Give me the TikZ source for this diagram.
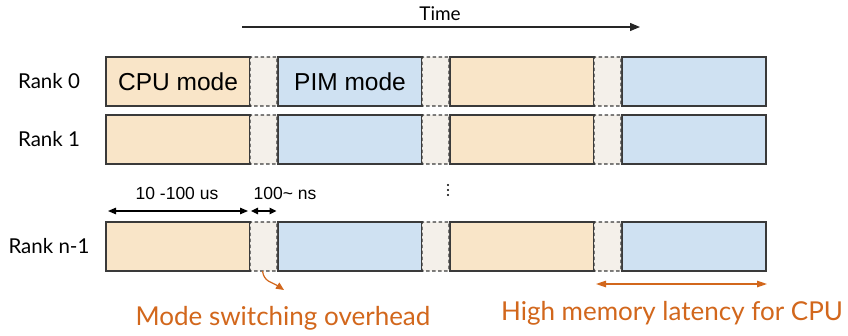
\documentclass[tikz,border=0pt]{standalone}
\usepackage{fontspec}
\setmainfont{Lato}
\newfontfamily\arialfont{Liberation Sans}
\usetikzlibrary{arrows.meta}

\definecolor{cpufill}{HTML}{F9E5C8}
\definecolor{pimfill}{HTML}{CFE1F2}
\definecolor{swfill}{HTML}{F4F0EA}
\definecolor{edge}{HTML}{3A3A3A}
\definecolor{accent}{HTML}{D2671C}

\tikzset{
  blk/.style={anchor=north west, inner sep=0pt, outer sep=0pt,
    minimum height=49pt, line width=1.2pt, draw=edge},
  cpubox/.style={blk, fill=cpufill, minimum width=144pt},
  pimbox/.style={blk, fill=pimfill, minimum width=144pt},
  swbox/.style={blk, fill=swfill, minimum width=27pt,
    dash pattern=on 3.5pt off 2.5pt, rounded corners=1pt},
  ranklabel/.style={font=\fontsize{20.5}{24}\selectfont, text=black},
  modetext/.style={font=\arialfont\fontsize{24.5}{28}\selectfont},
  dimtext/.style={font=\arialfont\fontsize{17.5}{20}\selectfont},
  notetext/.style={font=\fontsize{26}{30}\selectfont, text=accent},
  dimarrow/.style={line width=1.2pt, {Triangle[length=8pt,width=6.5pt]}-{Triangle[length=8pt,width=6.5pt]}},
}

\begin{document}
\begin{tikzpicture}[x=1pt, y=-1pt]
\useasboundingbox[fill=white] (0,0) rectangle (848,335);

% time axis
\coordinate (t0) at (242,27);
\coordinate (t1) at (640,27);
\draw[line width=1.2pt, draw=black!85, -{Triangle[length=10pt,width=8pt]}] (t0) -- (t1);
\node[font=\fontsize{19}{22}\selectfont] (timelbl) at (440,14) {Time};

% three rows of alternating CPU / switch / PIM phases
\foreach \r/\y/\lbl in {0/57/Rank 0, 1/115/Rank 1, n/222/Rank n-1} {
  \node[ranklabel] (lbl\r) at (49,\y+24.5) {\lbl};
  \node[cpubox] (cpuA\r) at (106,\y) {};
  \node[pimbox] (pimA\r) at (278,\y) {};
  \node[cpubox] (cpuB\r) at (450,\y) {};
  \node[pimbox] (pimB\r) at (622,\y) {};
  \node[swbox]  (swA\r)  at (250,\y) {};
  \node[swbox]  (swB\r)  at (422,\y) {};
  \node[swbox]  (swC\r)  at (594,\y) {};
}

\node[modetext] at (cpuA0.center) {CPU mode};
\node[modetext] at (pimA0.center) {PIM mode};

% vertical ellipsis between rank 1 and rank n-1
\foreach \yy in {185,190,195} \fill (448,\yy) circle (1.1pt);

% durations
\coordinate (dA) at ([xshift=2pt,yshift=11pt]cpuAn.north west);
\coordinate (dB) at ([xshift=-2pt,yshift=11pt]cpuAn.north east);
\coordinate (dC) at ([xshift=1pt,yshift=11pt]swAn.north west);
\coordinate (dD) at ([xshift=-0.5pt,yshift=11pt]swAn.north east);
\draw[dimarrow] (dA) -- (dB);
\draw[dimarrow, {Triangle[length=7pt,width=6.5pt]}-{Triangle[length=7pt,width=6.5pt]}] (dC) -- (dD);
\node[dimtext] (durA) at (177,193) {10 -100 us};
\node[dimtext] (durB) at (285,193) {100\string~ ns};

% annotations
\coordinate (ovEnd) at (284,290);
\draw[accent, line width=1.2pt, -{Triangle[length=8pt,width=7pt]}]
  ([xshift=-1pt]swAn.south) .. controls (264,282) and (272,282) .. (ovEnd);
\node[notetext] (ovlbl) at (283,318) {Mode switching overhead};

\coordinate (laA) at (596,284);
\coordinate (laB) at (767,284);
\draw[accent, line width=1.2pt, {Triangle[length=10pt,width=6.5pt]}-{Triangle[length=10pt,width=6.5pt]}] (laA) -- (laB);
\node[notetext] (latlbl) at (672,313) {High memory latency for CPU};
\end{tikzpicture}
\end{document}
